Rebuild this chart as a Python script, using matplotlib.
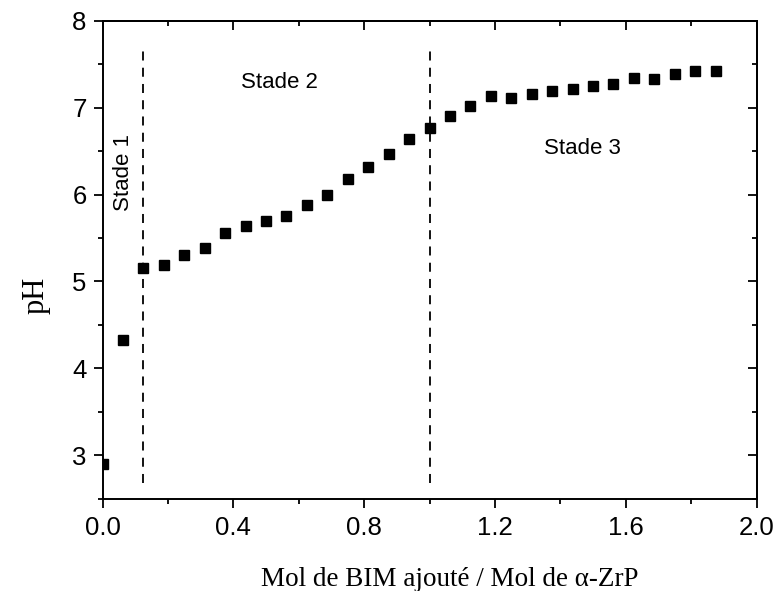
import matplotlib
matplotlib.use("Agg")
import matplotlib.pyplot as plt
from matplotlib.ticker import MultipleLocator

# mol BIM / mol alpha-ZrP and measured pH
ratio = [0.0, 0.0625, 0.125, 0.1875, 0.25, 0.3125, 0.375, 0.4375, 0.5, 0.5625,
         0.625, 0.6875, 0.75, 0.8125, 0.875, 0.9375, 1.0, 1.0625, 1.125, 1.1875,
         1.25, 1.3125, 1.375, 1.4375, 1.5, 1.5625, 1.625, 1.6875, 1.75, 1.8125, 1.875]
ph = [2.90, 4.32, 5.16, 5.19, 5.30, 5.39, 5.56, 5.64, 5.70, 5.75,
      5.88, 5.99, 6.18, 6.32, 6.47, 6.64, 6.77, 6.90, 7.02, 7.14,
      7.11, 7.16, 7.19, 7.22, 7.25, 7.27, 7.34, 7.33, 7.39, 7.42, 7.42]

stage_bounds = [0.125, 1.0]
stage_labels = ["Stade 1", "Stade 2", "Stade 3"]
stage_pos = [(0.063, 6.25), (0.54, 7.29), (1.468, 6.53)]

SANS = "Liberation Sans"
SERIF = "Liberation Serif"

fig = plt.figure(figsize=(7.76, 5.91), dpi=100)
ax = fig.add_axes([0.1321, 0.1565, 0.8428, 0.808])

ax.plot(ratio, ph, ls="none", marker="s", ms=7.2, color="black", zorder=3)

for xb in stage_bounds:
    ax.plot([xb, xb], [2.68, 7.65], color="black", lw=1.3, ls=(0, (5, 4)), zorder=2)

for (tx, ty), lab in zip(stage_pos, stage_labels):
    ax.text(tx, ty, lab, ha="center", va="center", fontsize=16, family=SANS,
            rotation=90 if lab == "Stade 1" else 0)

ax.set_xlim(0, 2.0)
ax.set_ylim(2.5, 8)
ax.xaxis.set_major_locator(MultipleLocator(0.4))
ax.xaxis.set_minor_locator(MultipleLocator(0.2))
ax.yaxis.set_major_locator(MultipleLocator(1))
ax.yaxis.set_minor_locator(MultipleLocator(0.5))
ax.xaxis.set_major_formatter(lambda v, p: f"{v:.1f}")
ax.yaxis.set_major_formatter(lambda v, p: f"{v:.0f}")

for s in ax.spines.values():
    s.set_linewidth(1.4)

ax.tick_params(which="major", direction="out", length=6.5, width=1.3, labelsize=18.5, pad=5)
ax.tick_params(which="minor", direction="out", length=3.5, width=1.3)
ax.tick_params(axis="x", which="major", pad=6)
for lab in ax.get_xticklabels() + ax.get_yticklabels():
    lab.set_family(SANS)

# mirrored inward ticks on top and right
top = ax.secondary_xaxis("top")
top.xaxis.set_major_locator(MultipleLocator(0.4))
top.xaxis.set_minor_locator(MultipleLocator(0.2))
top.tick_params(which="major", direction="in", length=6.5, width=1.3, labeltop=False)
top.tick_params(which="minor", direction="in", length=3.5, width=1.3)
top.spines["top"].set_linewidth(1.4)

right = ax.secondary_yaxis("right")
right.yaxis.set_major_locator(MultipleLocator(1))
right.yaxis.set_minor_locator(MultipleLocator(0.5))
right.tick_params(which="major", direction="in", length=6.5, width=1.3, labelright=False)
right.tick_params(which="minor", direction="in", length=3.5, width=1.3)
right.spines["right"].set_linewidth(1.4)

fig.text(36 / 776, 1 - 295 / 591, "pH", rotation=90, ha="center", va="center",
         fontsize=22, family=SERIF)
fig.text(450 / 776, 1 - 586.5 / 591, "Mol de BIM ajouté / Mol de α-ZrP",
         ha="center", va="baseline", fontsize=19.5, family=SERIF)

fig.savefig("out.png", dpi=100)
